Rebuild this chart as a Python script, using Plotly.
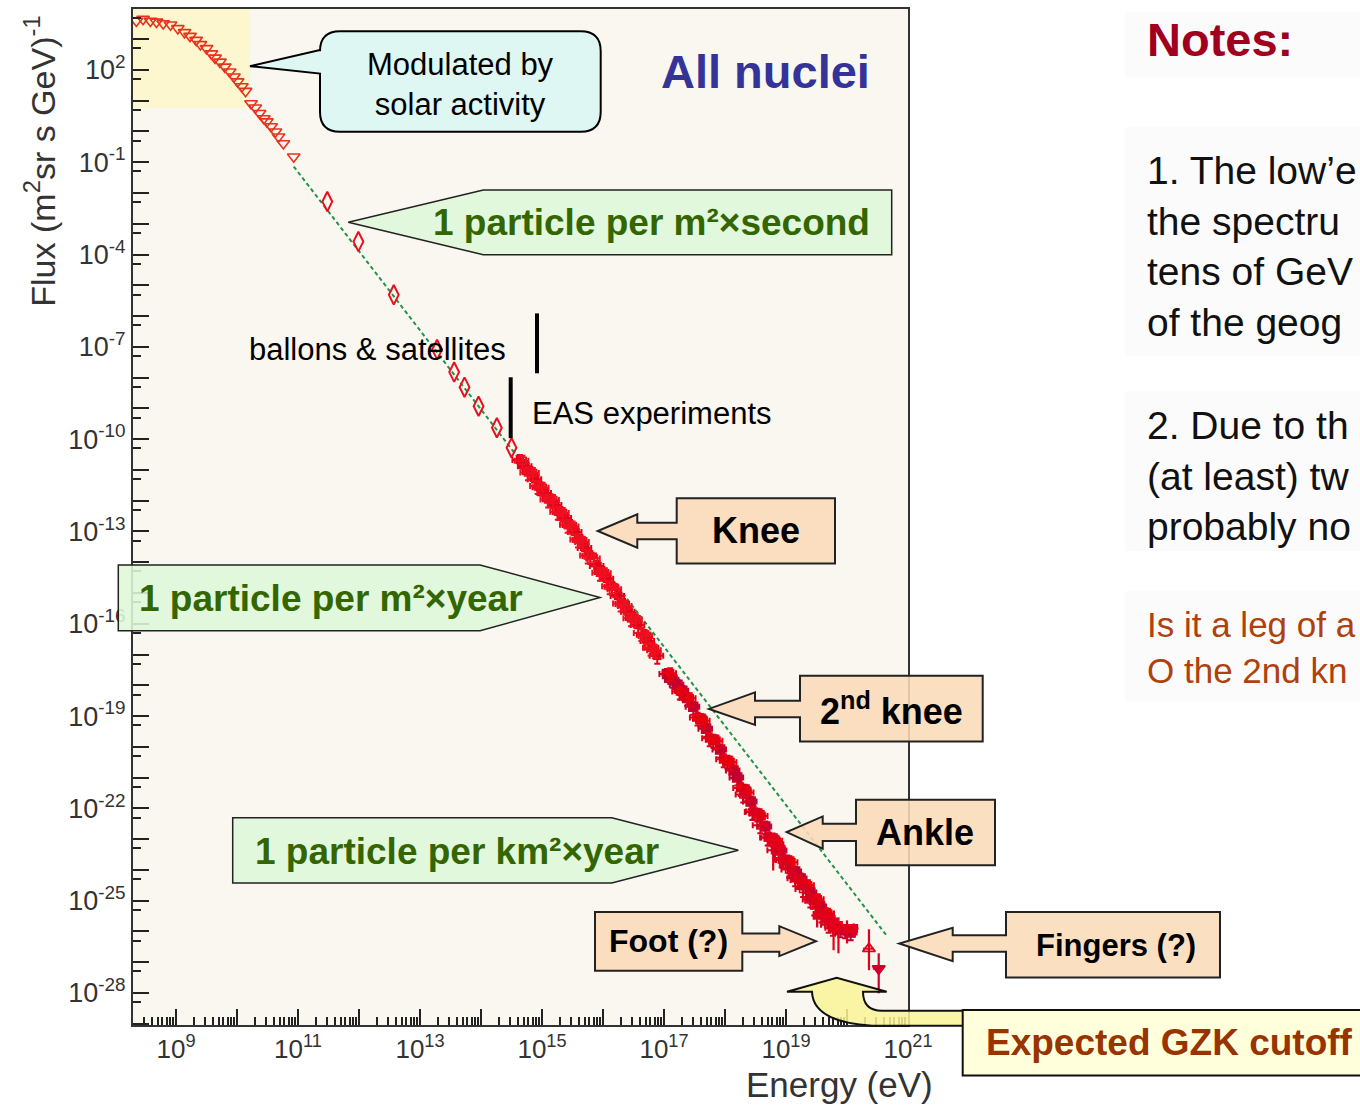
import numpy as np
import plotly.graph_objects as go

# ---------------------------------------------------------------------------
# Data (log10 of energy in eV and of flux in (m^2 sr s GeV)^-1)
# ---------------------------------------------------------------------------
# direct measurements at low energy (open down-triangles)
low_logE = [8.35, 8.46, 8.58, 8.68, 8.79, 8.91, 9.03, 9.14, 9.23, 9.33, 9.40, 9.50,
            9.58, 9.64, 9.72, 9.80, 9.88, 9.95, 10.01, 10.08, 10.14, 10.23, 10.30,
            10.37, 10.44, 10.49, 10.56, 10.63, 10.68, 10.76, 10.93]
low_logF = [3.59, 3.65, 3.59, 3.56, 3.51, 3.47, 3.35, 3.22, 3.10, 2.97, 2.83, 2.70,
            2.53, 2.39, 2.26, 2.10, 1.94, 1.78, 1.62, 1.46, 1.31, 0.91, 0.77,
            0.59, 0.42, 0.32, 0.16, -0.01, -0.17, -0.39, -0.82]

# balloon / satellite points (open diamonds)
sat_logE = [11.48, 11.99, 12.57, 13.28, 13.56, 13.73, 13.96, 14.26, 14.50]
sat_logF = [-2.28, -3.58, -5.31, -7.09, -7.82, -8.31, -8.93, -9.63, -10.28]

# air-shower data around the knee (two overlapping experiments)
knee_a_logE = [14.64, 14.73, 14.81, 14.89, 14.97, 15.05, 15.14, 15.22, 15.30, 15.38,
               15.46, 15.55, 15.63, 15.71, 15.79, 15.91, 15.99, 16.07, 16.15, 16.25,
               16.33, 16.42, 16.50, 16.58, 16.68, 16.74, 16.81, 16.89]
knee_a_logF = [-10.68, -10.88, -11.07, -11.30, -11.56, -11.75, -11.95, -12.14, -12.37, -12.56,
               -12.79, -13.02, -13.28, -13.54, -13.80, -14.12, -14.32, -14.54, -14.80, -15.10,
               -15.36, -15.61, -15.81, -16.04, -16.36, -16.56, -16.78, -17.04]
knee_b_logE = [14.68, 14.77, 14.85, 14.93, 15.01, 15.10, 15.18, 15.26, 15.34, 15.42,
               15.50, 15.59, 15.67, 15.75, 15.85, 15.95, 16.03, 16.11, 16.20, 16.29,
               16.37, 16.46, 16.54, 16.63, 16.71, 16.78, 16.85]
knee_b_logF = [-10.70, -11.08, -11.10, -11.52, -11.58, -11.96, -11.98, -12.36, -12.40, -12.78,
               -12.84, -13.26, -13.34, -13.78, -13.88, -14.34, -14.36, -14.78, -14.88, -15.34,
               -15.42, -15.82, -15.86, -16.30, -16.40, -16.78, -16.86]

# high-energy data above the second knee
uhe_c_logE = [17.05, 17.14, 17.22, 17.30, 17.38, 17.48, 17.60, 17.69, 17.81, 17.92,
              18.04, 18.14, 18.20, 18.32, 18.42, 18.53, 18.66, 18.78, 18.91, 19.02,
              19.15, 19.24, 19.32, 19.40, 19.48, 19.56, 19.65, 19.73, 19.81, 19.89,
              19.97, 20.06]
uhe_c_logF = [-17.63, -17.82, -17.98, -18.18, -18.41, -18.70, -19.09, -19.41, -19.77, -20.09,
              -20.45, -20.77, -21.00, -21.39, -21.78, -22.17, -22.59, -22.98, -23.37, -23.69,
              -24.05, -24.28, -24.50, -24.73, -24.96, -25.19, -25.41, -25.64, -25.84, -25.93,
              -25.96, -26.03]
uhe_d_logE = [17.10, 17.26, 17.42, 17.55, 17.65, 17.75, 17.86, 17.98, 18.09, 18.26,
              18.37, 18.47, 18.60, 18.72, 18.84, 18.96, 19.09, 19.20, 19.36, 19.44,
              19.52, 19.60, 19.69, 19.77]
uhe_d_logF = [-17.61, -18.20, -18.42, -19.05, -19.15, -19.72, -19.80, -20.40, -20.50, -21.34,
              -21.48, -22.10, -22.25, -22.95, -23.05, -23.68, -23.75, -24.33, -24.50, -25.00,
              -24.95, -25.42, -25.42, -25.88]
uhe_e_logE = [18.30, 18.45, 18.58, 18.70, 18.82, 18.93, 19.05, 19.15, 19.28, 19.40, 19.58, 19.70]
uhe_e_logF = [-21.55, -22.12, -22.55, -22.95, -23.36, -23.66, -23.99, -24.27, -24.62, -24.96,
              -25.45, -25.78]

# highest-energy bins with large uncertainties
tail_logE = [18.79, 18.90, 19.51, 19.64, 19.78, 19.86, 20.00, 20.11]
tail_logF = [-23.04, -23.21, -25.48, -25.58, -25.71, -25.80, -25.90, -25.90]
tail_logF_hi = [-22.82, -22.95, -25.22, -25.32, -25.41, -25.54, -25.64, -25.74]
tail_logF_lo = [-24.02, -23.90, -25.87, -25.87, -26.61, -26.71, -26.39, -26.19]

end_open_logE, end_open_logF = [20.36], [-26.56]
end_open_hi, end_open_lo = [-25.93], [-27.26]
end_fill_logE, end_fill_logF = [20.52], [-27.21]
end_fill_hi, end_fill_lo = [-26.71], [-28.01]

# E^-2.6 guide line (end points)
guide_logE = [10.93, 20.66]
guide_logF = [-1.14, -26.16]

# axis labelling
x_label_exponents = [9, 11, 13, 15, 17, 19, 21]
x_plain_exponents = [8, 10, 12, 14, 16, 18, 20]
y_label_exponents = [2, -1, -4, -7, -10, -13, -16, -19, -22, -25, -28]
y_plain_exponents = [k for k in range(-29, 5) if k not in y_label_exponents]

# ---------------------------------------------------------------------------
FONT = "Liberation Sans, Arial, sans-serif"
W, H = 1360, 1105
ML, MR, MT, MB = 133, 452, 7, 80
PW, PH = W - ML - MR, H - MT - MB
X_RANGE = [8.295, 21.0]
Y_RANGE = [-29.04, 3.98]


def fx(x):
    return (x - ML) / PW


def fy(y):
    return (H - MB - y) / PH


def pt(x, y):
    return f"{fx(x):.5f},{fy(y):.5f}"


def poly(pts):
    return "M " + " L ".join(pt(x, y) for x, y in pts) + " Z"


def lin(v):
    return 10.0 ** np.asarray(v, dtype=float)


fig = go.Figure()

# guide line
fig.add_trace(go.Scatter(x=lin(guide_logE), y=lin(guide_logF), mode="lines",
                         line=dict(color="#22944a", width=2, dash="4px,3px")))

# low energy triangles
fig.add_trace(go.Scatter(x=lin(low_logE), y=lin(low_logF), mode="markers",
                         marker=dict(symbol="triangle-down-open", size=11,
                                     color="#e8331c", line=dict(width=1.6, color="#e8331c"))))

# balloon & satellite diamonds
fig.add_trace(go.Scatter(x=lin(sat_logE), y=lin(sat_logF), mode="markers",
                         marker=dict(symbol="diamond-tall-open", size=14,
                                     color="#e8101c", line=dict(width=2, color="#e8101c"))))


def cross_series(lx, ly, color, size, symbol="square", ex=25, ey=45, lw=2):
    fig.add_trace(go.Scatter(
        x=lin(lx), y=lin(ly), mode="markers",
        marker=dict(symbol=symbol, size=size, color=color, line=dict(width=1.5, color=color)),
        error_x=dict(type="percent", value=ex, color=color, thickness=lw, width=3),
        error_y=dict(type="percent", value=ey, color=color, thickness=lw, width=3)))


cross_series(knee_a_logE, knee_a_logF, "#e3001b", 7)
cross_series(knee_b_logE, knee_b_logF, "#ee1020", 7, symbol="square-open")
cross_series(uhe_c_logE, uhe_c_logF, "#c4002f", 9)
cross_series(uhe_d_logE, uhe_d_logF, "#e6000f", 7)
cross_series(uhe_e_logE, uhe_e_logF, "#d80020", 7, symbol="square-open")


def bar_series(lx, ly, lhi, llo, color, symbol, size):
    y = lin(ly)
    fig.add_trace(go.Scatter(
        x=lin(lx), y=y, mode="markers",
        marker=dict(symbol=symbol, size=size, color=color, line=dict(width=1.8, color=color)),
        error_y=dict(type="data", symmetric=False, array=lin(lhi) - y, arrayminus=y - lin(llo),
                     color=color, thickness=2.2, width=0),
        error_x=dict(type="percent", value=20, color=color, thickness=2, width=0)))


bar_series(tail_logE, tail_logF, tail_logF_hi, tail_logF_lo, "#e3001b", "square", 7)
bar_series(end_open_logE, end_open_logF, end_open_hi, end_open_lo, "#e3001b", "triangle-up-open", 11)
bar_series(end_fill_logE, end_fill_logF, end_fill_hi, end_fill_lo, "#d0002a", "triangle-down", 11)

# empty trace that carries the overlay axes used for the unlabelled decade ticks
fig.add_trace(go.Scatter(x=[], y=[], xaxis="x2", yaxis="y2", mode="markers"))

# ---------------------------------------------------------------------------
# callouts
shapes = []
# solar-modulation band
shapes.append(dict(type="rect", xref="paper", yref="paper", layer="below",
                   x0=fx(133), x1=fx(250), y0=fy(106), y1=fy(7),
                   fillcolor="#fcf7cf", line=dict(width=0)))

# speech bubble
bx0, bx1, by0, by1, r = 320, 600.7, 29.3, 130, 20
bubble = (f"M {pt(bx0 + r, by0)} L {pt(bx1 - r, by0)} Q {pt(bx1, by0)} {pt(bx1, by0 + r)} "
          f"L {pt(bx1, by1 - r)} Q {pt(bx1, by1)} {pt(bx1 - r, by1)} L {pt(bx0 + r, by1)} "
          f"Q {pt(bx0, by1)} {pt(bx0, by1 - r)} L {pt(bx0, 71.7)} L {pt(250, 64.3)} "
          f"L {pt(bx0, 48)} L {pt(bx0, by0 + r)} Q {pt(bx0, by0)} {pt(bx0 + r, by0)} Z")
shapes.append(dict(type="path", xref="paper", yref="paper", path=bubble,
                   fillcolor="#dff7f3", line=dict(color="black", width=2)))

GREEN_FILL = "rgba(222,248,216,0.88)"
for pts in ([(348.3, 220.7), (483.3, 188.3), (891.7, 188.3), (891.7, 253.3), (483.3, 253.3)],
            [(118.3, 564), (480, 564), (600, 596.7), (480, 630), (118.3, 630)],
            [(232.7, 817.3), (611.7, 817.3), (738.3, 850), (611.7, 882.7), (232.7, 882.7)]):
    shapes.append(dict(type="path", xref="paper", yref="paper", path=poly(pts),
                       fillcolor=GREEN_FILL, line=dict(color="#222", width=1.5)))

ORANGE_FILL = "rgba(250,219,184,0.88)"
arrows = [
    [(676.7, 497.3), (835, 497.3), (835, 562.7), (676.7, 562.7), (676.7, 538.3), (637.3, 538.3),
     (637.3, 546.7), (597.7, 530), (637.3, 513.3), (637.3, 521.7), (676.7, 521.7)],
    [(800, 675), (982.7, 675), (982.7, 741), (800, 741), (800, 716.7), (755, 716.7),
     (755, 724.3), (709, 708.3), (755, 691.7), (755, 700), (800, 700)],
    [(856, 799.3), (995, 799.3), (995, 865), (856, 865), (856, 840.7), (822.7, 840.7),
     (822.7, 848.3), (786.7, 831.7), (822.7, 816), (822.7, 823.3), (856, 823.3)],
    [(595, 911.7), (742.3, 911.7), (742.3, 933.3), (779.3, 933.3), (779.3, 926), (816, 941),
     (779.3, 956), (779.3, 951.7), (742.3, 951.7), (742.3, 970.7), (595, 970.7)],
    [(1006, 911.7), (1220, 911.7), (1220, 977.3), (1006, 977.3), (1006, 951.7), (952.7, 951.7),
     (952.7, 961), (899.3, 943.3), (952.7, 927.7), (952.7, 935), (1006, 935)],
]
for pts in arrows:
    shapes.append(dict(type="path", xref="paper", yref="paper", path=poly(pts),
                       fillcolor=ORANGE_FILL, line=dict(color="#222", width=2)))

# curved GZK arrow and label box
gzk_arrow = (f"M {pt(787, 991.7)} L {pt(836.7, 977.7)} L {pt(886.7, 991.7)} L {pt(863, 991.7)} "
             f"Q {pt(863, 1010.7)} {pt(882, 1010.7)} L {pt(963, 1010.7)} L {pt(963, 1025.7)} "
             f"L {pt(872, 1025.7)} Q {pt(813, 1022)} {pt(812, 991.7)} Z")
shapes.append(dict(type="path", xref="paper", yref="paper", path=gzk_arrow,
                   fillcolor="rgba(249,244,150,0.85)", line=dict(color="#111", width=2)))
shapes.append(dict(type="rect", xref="paper", yref="paper", x0=fx(962.7), x1=fx(1400),
                   y0=fy(1075.7), y1=fy(1010), fillcolor="#ffffdc",
                   line=dict(color="#111", width=2)))

# experiment-range markers
shapes.append(dict(type="line", xref="paper", yref="paper", x0=fx(537), x1=fx(537),
                   y0=fy(312), y1=fy(372), line=dict(color="black", width=4)))
shapes.append(dict(type="line", xref="paper", yref="paper", x0=fx(510.7), x1=fx(510.7),
                   y0=fy(376), y1=fy(437), line=dict(color="black", width=4)))

# faint panels behind the notes
for y0, y1 in ((10, 75), (125, 355), (390, 550), (590, 700)):
    shapes.append(dict(type="rect", xref="paper", yref="paper", x0=fx(1125), x1=fx(1400),
                       y0=fy(y1), y1=fy(y0), fillcolor="#fbfbfb", line=dict(width=0),
                       layer="below"))


def label(x, y, text, size, color="black", xanchor="center", yanchor="middle",
          align="center", angle=0):
    fig.add_annotation(x=fx(x), y=fy(y), xref="paper", yref="paper", text=text,
                       showarrow=False, xanchor=xanchor, yanchor=yanchor, align=align,
                       textangle=angle, font=dict(family=FONT, size=size, color=color))


label(460, 83, "Modulated by<br>solar activity", 31)
label(765, 70, "<b>All nuclei</b>", 47, color="#333399")
label(651, 221, "<b>1 particle per m²×second</b>", 37, color="#336600")
label(331, 598, "<b>1 particle per m²×year</b>", 37, color="#336600")
label(457, 851, "<b>1 particle per km²×year</b>", 37, color="#336600")
label(756, 530, "<b>Knee</b>", 36)
label(891, 708, "<b>2<sup>nd</sup> knee</b>", 36)
label(925.5, 832, "<b>Ankle</b>", 36)
label(668.7, 941, "<b>Foot (?)</b>", 32)
label(1116, 945, "<b>Fingers (?)</b>", 31)
label(984, 1043, "<b>Expected GZK cutoff</b>", 37, color="#993300", xanchor="left")
label(246.7, 348, "ballons &amp; satellites", 31, xanchor="left")
label(530, 412, "EAS experiments", 31, xanchor="left")

# axis titles
label(40, 160, "Flux (m<sup>2</sup>sr s GeV)<sup>-1</sup>", 34, color="#333", angle=-90)
label(839, 1085, "Energy (eV)", 35, color="#333")

# notes column
label(1145, 38, "<b>Notes:</b>", 47, color="#a0001e", xanchor="left")
label(1145, 245, "1. The low’e<br>the spectru<br>tens of GeV<br>of the geog", 39,
      color="#111", xanchor="left", align="left")
label(1145, 475, "2. Due to th<br>(at least) tw<br>probably no", 39,
      color="#111", xanchor="left", align="left")
label(1145, 647, "Is it a leg of a<br>O the 2nd kn", 35,
      color="#b0400c", xanchor="left", align="left")

# ---------------------------------------------------------------------------
AX_COLOR = "#333"
TICK_COLOR = "#222"
fig.update_layout(
    xaxis=dict(
        type="log", range=X_RANGE, tickmode="array",
        tickvals=[10.0 ** k for k in x_label_exponents],
        ticktext=[f"10<sup>{k}</sup>" for k in x_label_exponents],
        ticks="inside", ticklen=16, tickwidth=2, tickcolor=TICK_COLOR,
        minor=dict(tickmode="array", ticks="inside", ticklen=8, tickwidth=1.5,
                   tickcolor=TICK_COLOR,
                   tickvals=[m * 10.0 ** k for k in range(8, 21) for m in range(2, 10)]),
        showline=True, linewidth=2, linecolor=AX_COLOR, mirror=True,
        showgrid=False, zeroline=False,
        tickfont=dict(family=FONT, size=26, color="#333")),
    yaxis=dict(
        type="log", range=Y_RANGE, tickmode="array",
        tickvals=[10.0 ** k for k in y_label_exponents],
        ticktext=[f"10<sup>{k}</sup>" for k in y_label_exponents],
        ticks="inside", ticklen=16, tickwidth=2, tickcolor=TICK_COLOR,
        minor=dict(tickmode="array", ticks="inside", ticklen=8, tickwidth=2,
                   tickcolor=TICK_COLOR,
                   tickvals=[5 * 10.0 ** k for k in range(-30, 4)]),
        showline=True, linewidth=2, linecolor=AX_COLOR, mirror=True,
        showgrid=False, zeroline=False,
        tickfont=dict(family=FONT, size=27, color="#333")),
    # overlay axes: long ticks on the remaining decades, no labels
    xaxis2=dict(
        type="log", range=X_RANGE, overlaying="x", anchor="y2", side="bottom",
        tickmode="array", tickvals=[10.0 ** k for k in x_plain_exponents],
        ticks="inside", ticklen=16, tickwidth=2, tickcolor=TICK_COLOR,
        showticklabels=False, showline=False, showgrid=False, zeroline=False),
    yaxis2=dict(
        type="log", range=Y_RANGE, overlaying="y", anchor="x2", side="left",
        tickmode="array", tickvals=[10.0 ** k for k in y_plain_exponents],
        ticks="inside", ticklen=16, tickwidth=2, tickcolor=TICK_COLOR,
        showticklabels=False, showline=False, showgrid=False, zeroline=False),
    width=W, height=H, margin=dict(l=ML, r=MR, t=MT, b=MB, pad=0),
    paper_bgcolor="white", plot_bgcolor="#faf7f0",
    showlegend=False, hovermode=False, shapes=shapes)

fig.write_html("out.html")
